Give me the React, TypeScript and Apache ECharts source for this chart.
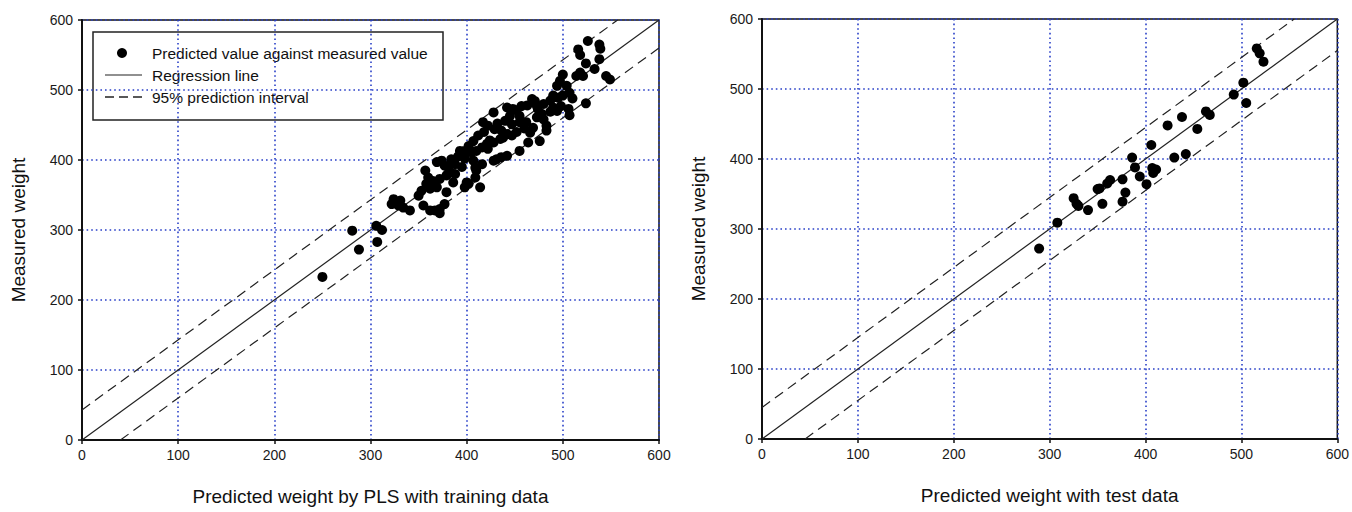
import React, { useEffect, useRef } from "react";
import * as echarts from "echarts";

const axisTicks = [0, 100, 200, 300, 400, 500, 600];

// Training data: [predicted, measured]
const trainPoints: number[][] = [
  [250, 233], [281, 299], [288, 272], [306, 306], [312, 300], [307, 283],
  [526, 570], [538, 565], [539, 559], [516, 558], [518, 550], [538, 544],
  [524, 538], [533, 530], [518, 525], [521, 520], [500, 522], [545, 520],
  [549, 515], [497, 513], [494, 506], [504, 506], [507, 496], [500, 492],
  [495, 489], [490, 492], [487, 485], [514, 520], [498, 477], [506, 473],
  [507, 464], [524, 481], [480, 480], [473, 477], [468, 487], [457, 477],
  [448, 473], [442, 475], [490, 475], [487, 469], [455, 463], [462, 454],
  [483, 449], [469, 446], [471, 484], [463, 478], [452, 471], [474, 473],
  [478, 466], [473, 461], [445, 463], [440, 456], [447, 451], [455, 454],
  [428, 468], [417, 454], [422, 449], [429, 444], [436, 442], [483, 442],
  [476, 427], [466, 439], [464, 425], [455, 413], [442, 406], [412, 435],
  [407, 427], [402, 420], [398, 413], [404, 413], [410, 413], [416, 418],
  [422, 416], [428, 425], [435, 430], [442, 437], [447, 435], [384, 401],
  [388, 394], [381, 389], [407, 399], [409, 389], [428, 399], [436, 404],
  [374, 399], [369, 397], [357, 385], [360, 375], [365, 370], [358, 366],
  [372, 373], [379, 378], [383, 382], [386, 368], [353, 356], [350, 349],
  [362, 359], [369, 361], [400, 368], [398, 361], [324, 344], [331, 342],
  [329, 335], [322, 337], [334, 332], [341, 328], [355, 335], [362, 328],
  [367, 328], [372, 330], [377, 337], [379, 354], [372, 324], [402, 366],
  [409, 375], [410, 385], [416, 394], [414, 361], [431, 401], [388, 380],
  [395, 390], [398, 402], [405, 411], [421, 423], [438, 432],
  [424, 428], [393, 413], [377, 392], [391, 405], [418, 440], [432, 452],
  [460, 445], [452, 440], [480, 458], [494, 470], [510, 488],
];

// Test data: [predicted, measured]
const testPoints: number[][] = [
  [516, 558], [519, 551], [523, 539], [502, 509], [492, 492], [505, 480],
  [463, 468], [467, 463], [454, 443], [438, 460], [423, 448], [406, 420],
  [386, 402], [389, 388], [394, 375], [401, 364], [407, 387], [411, 385],
  [408, 380], [430, 402], [442, 407], [376, 371], [379, 352], [376, 339],
  [363, 370], [360, 365], [352, 358], [350, 357], [355, 336], [340, 327],
  [325, 344], [328, 336], [330, 333], [308, 309], [289, 272],
];

// Regression line and 95% prediction interval endpoints
const trainRegression = [[0, 0], [600, 600]];
const trainUpper = [[0, 43], [557, 600]];
const trainLower = [[40, 0], [600, 560]];
const testRegression = [[0, 0], [600, 600]];
const testUpper = [[0, 45], [555, 600]];
const testLower = [[45, 0], [600, 555]];

const legendLabels = [
  "Predicted value against measured value",
  "Regression line",
  "95% prediction interval",
];

const FONT = "'Liberation Sans', Arial, sans-serif";
const GRID_BLUE = "#2a40c8";

function makeX(gridIndex: number, name: string) {
  return {
    type: "value",
    gridIndex,
    min: 0,
    max: 600,
    interval: 100,
    name,
    nameLocation: "middle",
    nameGap: 47,
    nameTextStyle: { fontSize: 19, color: "#111", fontFamily: FONT },
    axisLine: { show: true, lineStyle: { color: "#111", width: 2 } },
    axisTick: { show: true, inside: false, length: 4, lineStyle: { color: "#111", width: 1.5 } },
    axisLabel: { fontSize: 14, color: "#1a1a1a", margin: 8, fontFamily: FONT },
    splitLine: { show: true, lineStyle: { color: GRID_BLUE, width: 1.6, type: [1.6, 3] } },
    data: axisTicks,
  };
}

function makeY(gridIndex: number) {
  return {
    type: "value",
    gridIndex,
    min: 0,
    max: 600,
    interval: 100,
    name: "Measured weight",
    nameLocation: "middle",
    nameGap: 54,
    nameRotate: 90,
    nameTextStyle: { fontSize: 19, color: "#111", fontFamily: FONT },
    axisLine: { show: true, lineStyle: { color: "#111", width: 2 } },
    axisTick: { show: true, inside: false, length: 4, lineStyle: { color: "#111", width: 1.5 } },
    axisLabel: { fontSize: 14, color: "#1a1a1a", margin: 9, fontFamily: FONT },
    splitLine: { show: true, lineStyle: { color: GRID_BLUE, width: 1.6, type: [1.6, 3] } },
  };
}

function lineSeries(data: number[][], idx: number, dashed: boolean) {
  return {
    type: "line",
    xAxisIndex: idx,
    yAxisIndex: idx,
    data,
    symbol: "none",
    showSymbol: false,
    silent: true,
    z: 3,
    lineStyle: { color: "#222", width: 1.2, type: dashed ? [10, 6] : "solid" },
  };
}

function scatterSeries(data: number[][], idx: number) {
  return {
    type: "scatter",
    xAxisIndex: idx,
    yAxisIndex: idx,
    data,
    symbol: "circle",
    symbolSize: 10,
    itemStyle: { color: "#000", opacity: 1 },
    z: 4,
  };
}

export default function App() {
  const ref = useRef<HTMLDivElement>(null);
  useEffect(() => {
    if (!ref.current) return;
    const chart = echarts.init(ref.current, undefined, { renderer: "svg" });
    const legendText = (text: string, y: number) => ({
      type: "text",
      x: 152,
      y,
      style: {
        text,
        fontSize: 15.5,
        fontFamily: FONT,
        fill: "#111",
        textVerticalAlign: "middle",
        verticalAlign: "middle",
      },
    });
    chart.setOption({
      animation: false,
      backgroundColor: "#ffffff",
      textStyle: { fontFamily: FONT },
      grid: [
        { left: 82, top: 20, width: 577, height: 420, show: true, borderColor: "#111", borderWidth: 1.5, backgroundColor: "transparent" },
        { left: 762, top: 19, width: 576, height: 420, show: true, borderColor: "#111", borderWidth: 1.5, backgroundColor: "transparent" },
      ],
      xAxis: [
        makeX(0, "Predicted weight by PLS with training data"),
        makeX(1, "Predicted weight with test data"),
      ],
      yAxis: [makeY(0), makeY(1)],
      graphic: [
        {
          type: "group",
          z: 100,
          children: [
            {
              type: "rect",
              shape: { x: 93, y: 32, width: 350, height: 88 },
              style: { fill: "#ffffff", stroke: "#222", lineWidth: 1.5 },
            },
            { type: "circle", shape: { cx: 122, cy: 53, r: 5 }, style: { fill: "#000" } },
            { type: "line", shape: { x1: 105, y1: 75, x2: 142, y2: 75 }, style: { stroke: "#222", lineWidth: 1.2 } },
            {
              type: "line",
              shape: { x1: 105, y1: 97, x2: 142, y2: 97 },
              style: { stroke: "#222", lineWidth: 1.3, lineDash: [9, 5] },
            },
            legendText(legendLabels[0], 53),
            legendText(legendLabels[1], 75),
            legendText(legendLabels[2], 97),
          ],
        },
      ],
      series: [
        lineSeries(trainRegression, 0, false),
        lineSeries(trainUpper, 0, true),
        lineSeries(trainLower, 0, true),
        lineSeries(testRegression, 1, false),
        lineSeries(testUpper, 1, true),
        lineSeries(testLower, 1, true),
        scatterSeries(trainPoints, 0),
        scatterSeries(testPoints, 1),
      ],
    });
    return () => chart.dispose();
  }, []);
  return (
    <div
      ref={ref}
      style={{ position: "absolute", left: 0, top: 0, width: 1352, height: 512 }}
    />
  );
}
